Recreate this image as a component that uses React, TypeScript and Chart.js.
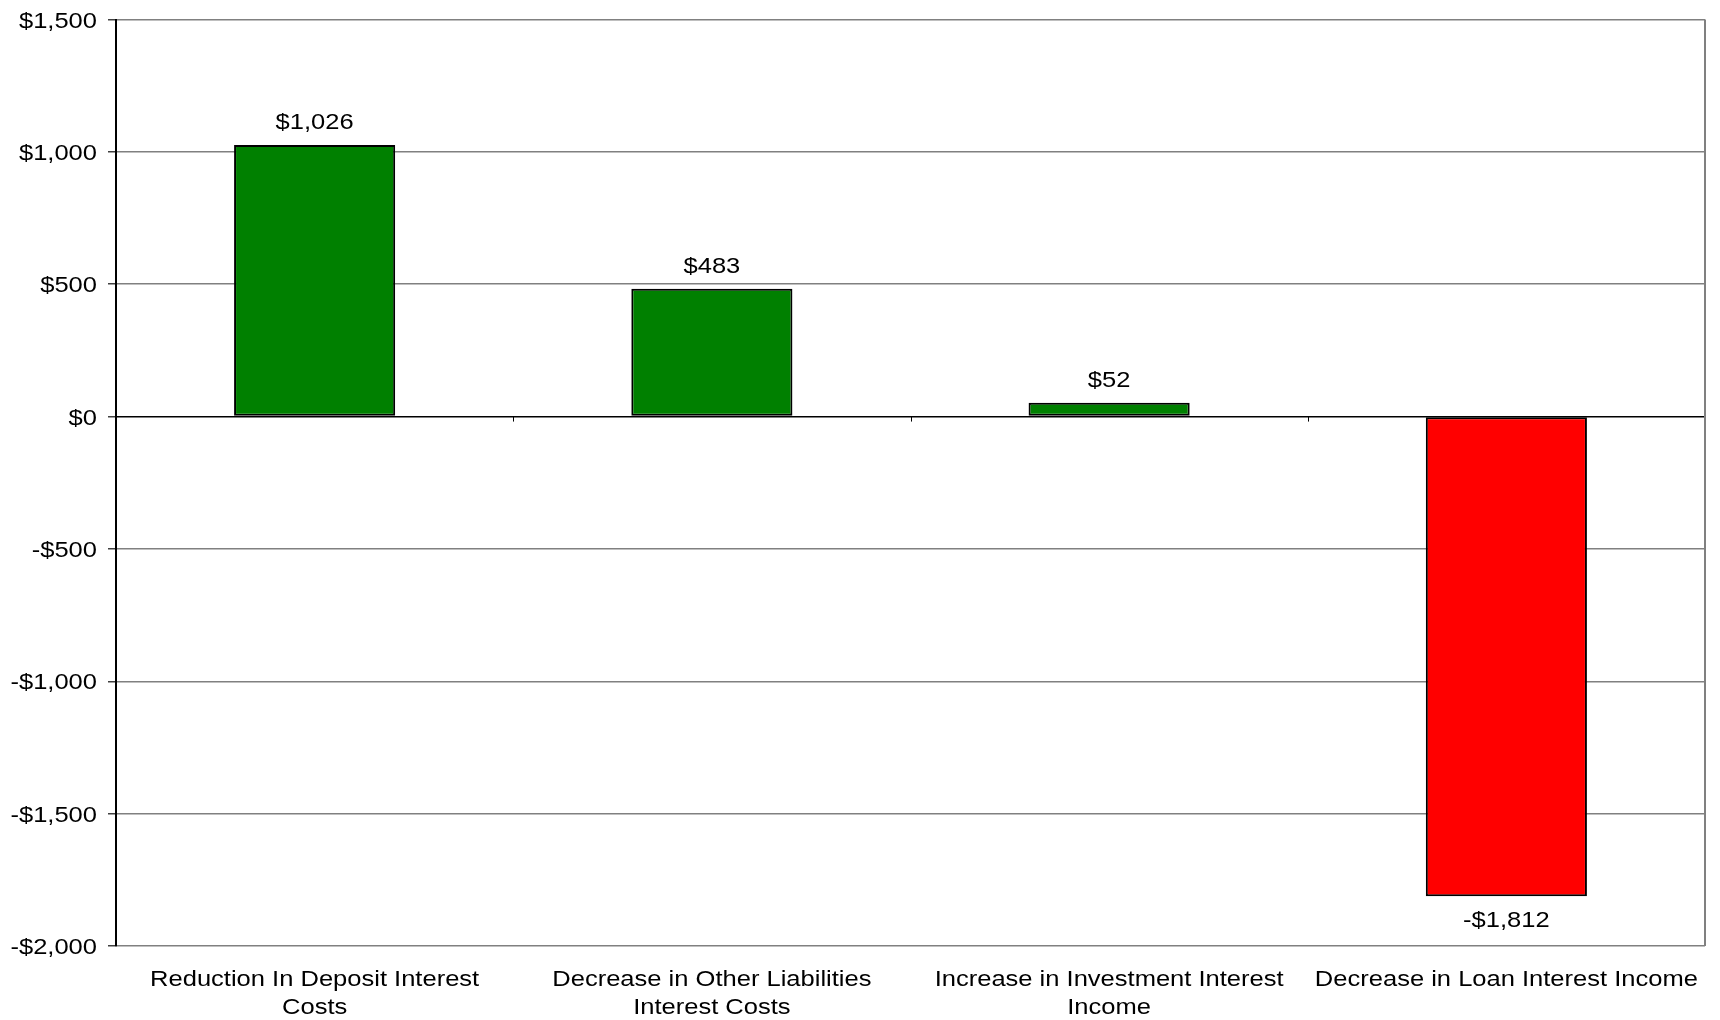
import React, { useEffect, useRef } from "react";
import { Chart, registerables } from "chart.js";

Chart.register(...registerables);

const categories: string[][] = [
  ["Reduction In Deposit Interest", "Costs"],
  ["Decrease in Other Liabilities", "Interest Costs"],
  ["Increase in Investment Interest", "Income"],
  ["Decrease in Loan Interest Income"],
];
const values: number[] = [1026, 483, 52, -1812];
const barColors: string[] = ["#008000", "#008000", "#008000", "#FF0000"];
const yMin = -2000;
const yMax = 1500;
const yStep = 500;

const FONT = "22px Arial, 'Liberation Sans', sans-serif";
const STRETCH = 1.16;

const fmt = (v: number) =>
  (v < 0 ? "-$" : "$") + Math.abs(v).toLocaleString("en-US");

function drawText(ctx: CanvasRenderingContext2D, text: string, x: number, y: number, align: CanvasTextAlign) {
  ctx.save();
  ctx.translate(x, y);
  ctx.scale(STRETCH, 1);
  ctx.textAlign = align;
  ctx.textBaseline = "alphabetic";
  ctx.fillText(text, 0, 0);
  ctx.restore();
}

const extrasPlugin = {
  id: "extras",
  afterDraw(chart: any) {
    const { ctx, chartArea, scales } = chart;
    const x = scales.x;
    const y = scales.y;
    ctx.save();
    // right border
    ctx.strokeStyle = "#808080";
    ctx.lineWidth = 2;
    ctx.beginPath();
    ctx.moveTo(chartArea.right, chartArea.top);
    ctx.lineTo(chartArea.right, chartArea.bottom);
    ctx.stroke();
    // category ticks at zero line
    const y0 = y.getPixelForValue(0);
    ctx.strokeStyle = "#000";
    ctx.lineWidth = 1;
    const n = categories.length;
    for (let i = 1; i < n; i++) {
      const px = Math.round((x.getPixelForValue(i - 1) + x.getPixelForValue(i)) / 2) + 0.5;
      ctx.beginPath();
      ctx.moveTo(px, y0);
      ctx.lineTo(px, y0 + 5);
      ctx.stroke();
    }
    ctx.fillStyle = "#000";
    ctx.font = FONT;
    // y tick labels
    for (let v = yMin; v <= yMax; v += yStep) {
      drawText(ctx, fmt(v), chartArea.left - 19, y.getPixelForValue(v) + 8, "right");
    }
    // category labels
    categories.forEach((lines, i) => {
      const cx = x.getPixelForValue(i);
      lines.forEach((line, j) => {
        drawText(ctx, line, cx, chartArea.bottom + 39.5 + j * 28, "center");
      });
    });
    // data labels
    const meta = chart.getDatasetMeta(0);
    meta.data.forEach((bar: any, i: number) => {
      const v = values[i];
      const ty = v >= 0 ? bar.y - 16 : bar.y + 31;
      drawText(ctx, fmt(v), bar.x, ty, "center");
    });
    ctx.restore();
  },
};

export default function App() {
  const ref = useRef<HTMLCanvasElement>(null);
  useEffect(() => {
    if (!ref.current) return;
    const chart = new Chart(ref.current, {
      type: "bar",
      data: {
        labels: categories.map((c) => c.join(" ")),
        datasets: [
          {
            data: values,
            backgroundColor: barColors,
            borderColor: "#000",
            borderWidth: 2,
            borderSkipped: false,
            categoryPercentage: 0.8,
            barPercentage: 0.507,
          },
        ],
      },
      options: {
        responsive: false,
        animation: false,
        devicePixelRatio: 1,
        layout: { padding: { top: 19.5, right: 15, left: 0, bottom: 0 } },
        plugins: {
          legend: { display: false },
          tooltip: { enabled: false },
        },
        scales: {
          x: {
            grid: { display: false, drawTicks: false },
            border: { display: false },
            ticks: { display: false },
            afterFit: (s: any) => {
              s.height = 74;
            },
          },
          y: {
            min: yMin,
            max: yMax,
            grid: {
              color: (c: any) => (c.tick && c.tick.value === 0 ? "#000" : "#808080"),
              lineWidth: 1.5,
              tickLength: 8,
              tickColor: "#404040",
            },
            border: { display: true, color: "#000", width: 2 },
            ticks: { display: false, stepSize: yStep },
            afterFit: (s: any) => {
              s.width = 116;
            },
          },
        },
      },
      plugins: [extrasPlugin],
    });
    return () => chart.destroy();
  }, []);
  return (
    <div style={{ position: "absolute", left: 0, top: 0, width: 1720, height: 1020, background: "#fff" }}>
      <canvas ref={ref} width={1720} height={1020} />
    </div>
  );
}
